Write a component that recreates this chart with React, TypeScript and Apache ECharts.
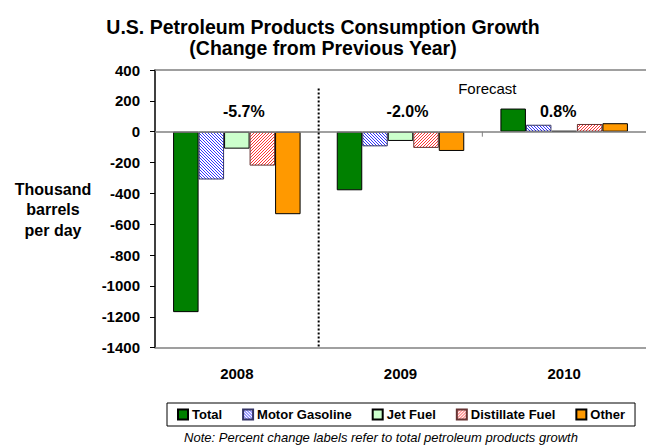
import React, { useEffect, useRef } from "react";
import * as echarts from "echarts";

const years = ["2008", "2009", "2010"];
const totalVals = [-1170, -380, 150];
const motorGasolineVals = [-310, -95, 45];
const jetFuelVals = [-110, -60, 5];
const distillateVals = [-220, -105, 50];
const otherVals = [-535, -125, 55];
const pctLabels = ["-5.7%", "-2.0%", "0.8%"];
const pctOffsets = [7, 7, -6];
const yTicks = { min: -1400, max: 400, interval: 200 };

const FONT = "'Liberation Sans', Arial, sans-serif";

function makeHatch(color: string, flip: boolean): string {
  const n = 3;
  const c = document.createElement("canvas");
  c.width = n;
  c.height = n;
  const ctx = c.getContext("2d")!;
  ctx.fillStyle = "#ffffff";
  ctx.fillRect(0, 0, n, n);
  ctx.fillStyle = color;
  for (let i = 0; i < n; i++) {
    const y = flip ? n - 1 - i : i;
    ctx.fillRect(i, y, 1, 1);
  }
  return c.toDataURL();
}

export default function App() {
  const ref = useRef<HTMLDivElement>(null);
  useEffect(() => {
    if (!ref.current) return;
    const chart = echarts.init(ref.current, undefined, { renderer: "svg" });
    const bluePat = makeHatch("#3333ff", false);
    const redPat = makeHatch("#ff3333", true);
    const border = { borderColor: "#000", borderWidth: 1 };
    const bar = (name: string, data: number[], color: any, extra: any = {}) => ({
      name,
      type: "bar",
      data,
      barWidth: 25.5,
      barGap: "0%",
      itemStyle: { color, ...border },
      ...extra,
    });
    chart.setOption({
      animation: false,
      textStyle: { fontFamily: FONT },
      title: {
        text: "U.S. Petroleum Products Consumption Growth\n(Change from Previous Year)",
        left: "center",
        top: 11,
        textStyle: { fontFamily: FONT, fontSize: 19.5, fontWeight: "bold", color: "#000", lineHeight: 21 },
      },
      legend: {
        left: 167,
        top: 403,
        padding: [5, 10],
        itemGap: 20,
        itemWidth: 10,
        itemHeight: 10,
        icon: "rect",
        borderColor: "#000",
        borderWidth: 1,
        textStyle: { fontFamily: FONT, fontSize: 13, fontWeight: "bold", color: "#000", padding: [0, 0, 0, -1] },
        data: ["Total", "Motor Gasoline", "Jet Fuel", "Distillate Fuel", "Other"],
      },
      grid: { left: 155, right: -6, top: 70, bottom: 97.4 },
      xAxis: [
        {
          type: "category",
          data: years,
          position: "bottom",
          axisLine: { onZero: false, lineStyle: { color: "#808080", width: 1.5 } },
          axisTick: { show: false },
          axisLabel: { margin: 18, fontFamily: FONT, fontSize: 15, fontWeight: "bold", color: "#000" },
        },
        {
          type: "category",
          data: years,
          position: "top",
          axisLine: { onZero: false, lineStyle: { color: "#808080", width: 1.5 } },
          axisTick: { show: false },
          axisLabel: { show: false },
        },
      ],
      yAxis: {
        type: "value",
        min: yTicks.min,
        max: yTicks.max,
        interval: yTicks.interval,
        axisLine: { show: true, lineStyle: { color: "#000", width: 1.5 } },
        axisTick: { show: true, inside: false, length: 5, lineStyle: { color: "#000" } },
        splitLine: { show: false },
        axisLabel: {
          margin: 15,
          fontFamily: FONT,
          fontSize: 15,
          fontWeight: "bold",
          color: "#000",
          formatter: (v: number) => String(v),
        },
      },
      series: [
        bar("Total", totalVals, "#008000", {
          markLine: {
            silent: true,
            symbol: "none",
            label: { show: false },
            lineStyle: { color: "#808080", type: "solid", width: 1.5 },
            data: [{ yAxis: 0 }],
          },
        }),
        bar("Motor Gasoline", motorGasolineVals, null, {
          itemStyle: { color: { image: bluePat, repeat: "repeat" }, borderColor: "#333366", borderWidth: 1 },
        }),
        bar("Jet Fuel", jetFuelVals, "#ccffcc"),
        bar("Distillate Fuel", distillateVals, null, {
          itemStyle: { color: { image: redPat, repeat: "repeat" }, borderColor: "#663333", borderWidth: 1 },
        }),
        bar("Other", otherVals, "#ff9900"),
      ],
    });

    const px = (cat: number, val: number) =>
      chart.convertToPixel({ xAxisIndex: 0, yAxisIndex: 0 }, [cat, val]) as number[];
    const c0 = px(0, 0);
    const c1 = px(1, 0);
    const c2 = px(2, 0);
    const b01 = (c0[0] + c1[0]) / 2;
    const b12 = (c1[0] + c2[0]) / 2;
    const lineTop = px(0, 280)[1];
    const lineBottom = px(0, yTicks.min)[1];
    const labelY = px(0, 130)[1];
    const forecastY = px(0, 280)[1];
    const graphics: any[] = [
      {
        type: "line",
        shape: { x1: b01, y1: lineTop, x2: b01, y2: lineBottom },
        style: { stroke: "#000", lineWidth: 2, lineDash: [2, 2] },
        z: 10,
      },
      {
        type: "line",
        shape: { x1: b12, y1: c0[1], x2: b12, y2: c0[1] + 5 },
        style: { stroke: "#808080", lineWidth: 1 },
      },
      {
        type: "text",
        x: b12 + 5,
        y: forecastY,
        style: { text: "Forecast", font: `15px ${FONT}`, fill: "#000", textAlign: "center", textVerticalAlign: "middle" },
      },
      {
        type: "text",
        x: 53,
        y: 209.5,
        style: {
          text: "Thousand\nbarrels\nper day",
          font: `bold 16px ${FONT}`,
          fill: "#000",
          textAlign: "center",
          textVerticalAlign: "middle",
          lineHeight: 20.5,
        },
      },
      {
        type: "text",
        x: 381,
        y: 437,
        style: {
          text: "Note: Percent change labels refer to total petroleum products growth",
          font: `italic 13px ${FONT}`,
          fill: "#000",
          textAlign: "center",
          textVerticalAlign: "middle",
        },
      },
    ];
    pctLabels.forEach((t, i) => {
      const p = px(i, 0);
      graphics.push({
        type: "text",
        x: p[0] + pctOffsets[i],
        y: labelY,
        style: { text: t, font: `bold 16px ${FONT}`, fill: "#000", textAlign: "center", textVerticalAlign: "middle" },
      });
    });
    chart.setOption({ graphic: graphics });
    return () => chart.dispose();
  }, []);
  return (
    <div
      ref={ref}
      style={{ position: "absolute", left: 0, top: 0, width: 646, height: 445 }}
    />
  );
}
